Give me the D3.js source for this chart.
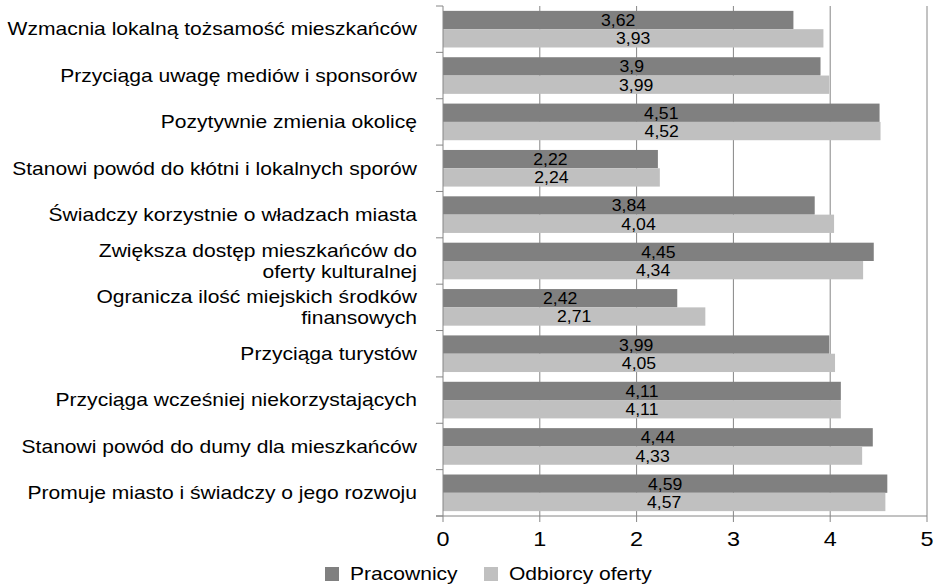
<!DOCTYPE html>
<html>
<head>
<meta charset="utf-8">
<script src="https://cdn.jsdelivr.net/npm/d3@7"></script>
<style>
  body { margin: 0; background: #fff; }
  text { font-family: "Liberation Sans", Arial, sans-serif; fill: #000; }
</style>
</head>
<body>
<div class="graph"></div>
<script>
// Categories (top to bottom), each entry = lines of the label
const categories = [
  ["Wzmacnia lokalną tożsamość mieszkańców"],
  ["Przyciąga uwagę mediów i sponsorów"],
  ["Pozytywnie zmienia okolicę"],
  ["Stanowi powód do kłótni i lokalnych sporów"],
  ["Świadczy korzystnie o władzach miasta"],
  ["Zwiększa dostęp mieszkańców do", "oferty kulturalnej"],
  ["Ogranicza ilość miejskich środków", "finansowych"],
  ["Przyciąga turystów"],
  ["Przyciąga wcześniej niekorzystających"],
  ["Stanowi powód do dumy dla mieszkańców"],
  ["Promuje miasto i świadczy o jego rozwoju"]
];
const pracownicy = [3.62, 3.9, 4.51, 2.22, 3.84, 4.45, 2.42, 3.99, 4.11, 4.44, 4.59];
const odbiorcy   = [3.93, 3.99, 4.52, 2.24, 4.04, 4.34, 2.71, 4.05, 4.11, 4.33, 4.57];
const seriesNames = ["Pracownicy", "Odbiorcy oferty"];
const xTicks = [0, 1, 2, 3, 4, 5];

function graph() {
  const W = 936, H = 586;
  const margin = {top: 6, right: 9, bottom: 70, left: 443};
  const width = W - margin.left - margin.right,
        height = H - margin.top - margin.bottom;

  const colors = ["#808080", "#c0c0c0"];
  const gridColor = "#868686";
  const stretch = 1.17; // the reference text is horizontally wide

  const svg = d3.select(".graph").append("svg")
    .attr("width", W).attr("height", H);
  const g = svg.append("g")
    .attr("transform", "translate(" + margin.left + "," + margin.top + ")");

  const idx = d3.range(categories.length);

  const x = d3.scaleLinear().domain([0, 5]).range([0, width]);
  const y = d3.scaleBand().domain(idx).range([0, height]).paddingInner(0.21).paddingOuter(0.105);
  const y1 = d3.scaleBand().domain([0, 1]).range([0, y.bandwidth()]);
  const step = y.step();

  // vertical gridlines
  g.selectAll(".grid").data(xTicks.slice(1))
    .enter().append("line")
    .attr("x1", d => x(d)).attr("x2", d => x(d))
    .attr("y1", 0).attr("y2", height)
    .attr("stroke", gridColor).attr("stroke-width", 1);

  // bars
  const rows = idx.map(i => [pracownicy[i], odbiorcy[i]]);
  const grp = g.selectAll(".grp").data(rows).enter().append("g")
    .attr("transform", (d, i) => "translate(0," + y(i) + ")");

  grp.selectAll("rect").data(d => d).enter().append("rect")
    .attr("x", x(0))
    .attr("y", (d, j) => y1(j))
    .attr("width", d => x(d) - x(0))
    .attr("height", y1.bandwidth())
    .attr("fill", (d, j) => colors[j]);

  grp.selectAll(".lbl").data(d => d).enter().append("text")
    .attr("transform", (d, j) => "translate(" + x(d / 2) + "," + (y1(j) + y1.bandwidth() / 2) + ") scale(1.07,1)")
    .attr("dy", "0.36em")
    .attr("text-anchor", "middle")
    .style("font-size", "16.5px")
    .text(d => String(d).replace(".", ","));

  // y axis line + ticks between categories
  g.append("line")
    .attr("x1", 0).attr("x2", 0).attr("y1", 0).attr("y2", height)
    .attr("stroke", gridColor);
  g.selectAll(".ytick").data(d3.range(categories.length + 1))
    .enter().append("line")
    .attr("x1", -7).attr("x2", 0)
    .attr("y1", d => d * step).attr("y2", d => d * step)
    .attr("stroke", gridColor);

  // x axis
  g.append("line")
    .attr("x1", -7).attr("x2", width).attr("y1", height).attr("y2", height)
    .attr("stroke", gridColor);
  g.selectAll(".xtick").data(xTicks).enter().append("line")
    .attr("x1", d => x(d)).attr("x2", d => x(d))
    .attr("y1", height).attr("y2", height + 6)
    .attr("stroke", gridColor);
  g.selectAll(".xlab").data(xTicks).enter().append("text")
    .attr("transform", d => "translate(" + x(d) + "," + (height + 30) + ") scale(" + stretch + ",1)")
    .attr("text-anchor", "middle")
    .style("font-size", "20px")
    .text(d => d);

  // category labels
  const lineH = 21;
  const cat = g.selectAll(".cat").data(categories).enter().append("text")
    .attr("text-anchor", "end")
    .style("font-size", "18px")
    .attr("transform", (d, i) => "translate(-26," + (i * step + step / 2) + ") scale(" + stretch + ",1)");
  cat.selectAll("tspan").data(d => d.map((t, k) => ({t, k, n: d.length})))
    .enter().append("tspan")
    .attr("x", 0)
    .attr("y", d => (d.k - (d.n - 1) / 2) * lineH)
    .attr("dy", "0.35em")
    .text(d => d.t);

  // legend
  const legend = svg.append("g").attr("transform", "translate(325," + (H - 12) + ")");
  const items = [{x: 0}, {x: 159}];
  seriesNames.forEach((name, i) => {
    legend.append("rect")
      .attr("x", items[i].x).attr("y", -7)
      .attr("width", 14).attr("height", 14)
      .attr("fill", colors[i]);
    legend.append("text")
      .attr("transform", "translate(" + (items[i].x + 25) + ",0) scale(" + stretch + ",1)")
      .attr("dy", "0.36em")
      .style("font-size", "18px")
      .text(name);
  });
}

graph();
</script>
</body>
</html>
